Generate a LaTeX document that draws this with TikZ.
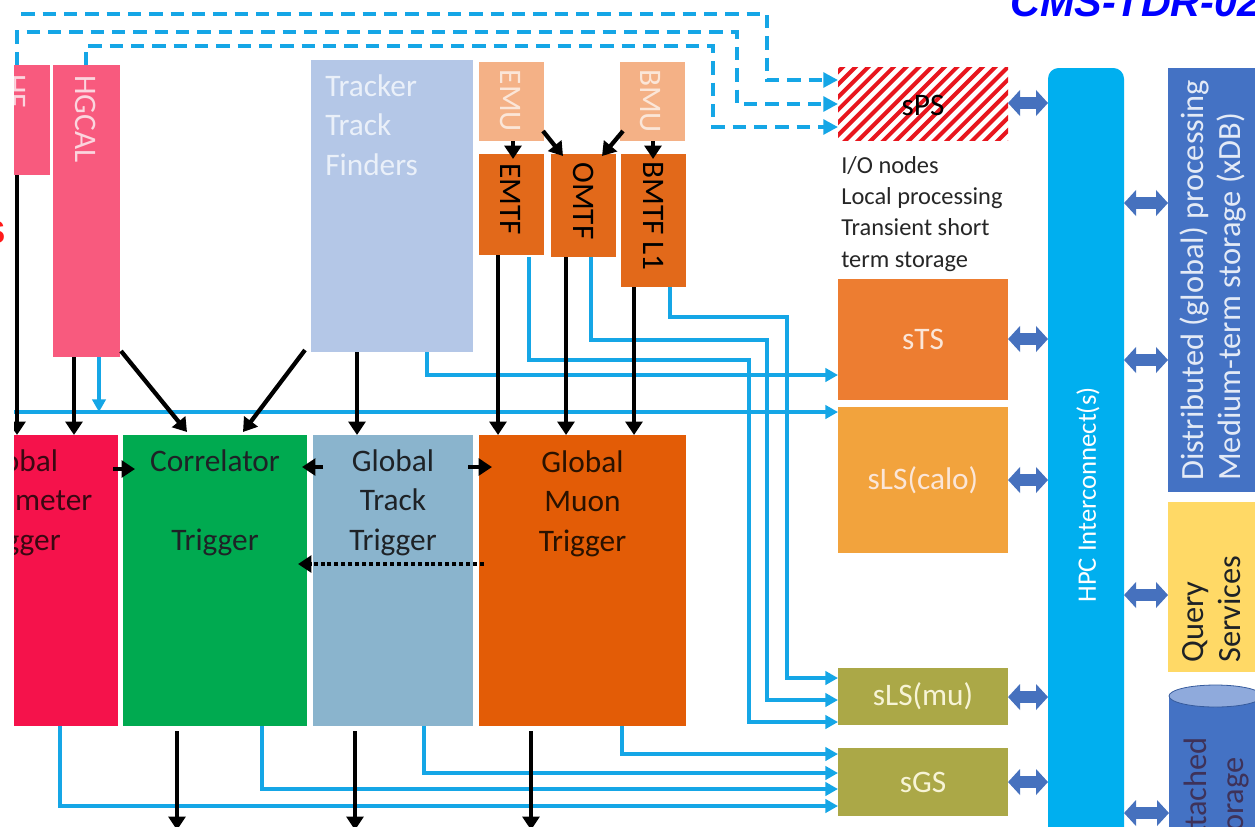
\documentclass[tikz,border=0pt]{standalone}
\usepackage{fontspec}
\setmainfont{Carlito}
\newfontfamily\headfont{Liberation Sans}
\usetikzlibrary{arrows.meta,fit,calc}

\definecolor{pinkcal}{HTML}{F85A7E}
\definecolor{calotext}{HTML}{FBD5DE}
\definecolor{crimson}{HTML}{F5124B}
\definecolor{corrgreen}{HTML}{00AA50}
\definecolor{gttblue}{HTML}{8AB4CD}
\definecolor{gmtorange}{HTML}{E35C06}
\definecolor{tforange}{HTML}{E2691A}
\definecolor{muorange}{HTML}{F4B186}
\definecolor{emutext}{HTML}{FBE6D8}
\definecolor{trackerblue}{HTML}{B4C7E7}
\definecolor{trackertext}{HTML}{EAF0F9}
\definecolor{stsorange}{HTML}{ED7D31}
\definecolor{slsorange}{HTML}{F2A33D}
\definecolor{olive}{HTML}{ABA847}
\definecolor{olivetext}{HTML}{F7F4D6}
\definecolor{hpcblue}{HTML}{00AFEF}
\definecolor{distblue}{HTML}{4472C4}
\definecolor{disttext}{HTML}{E3EAF6}
\definecolor{querygold}{HTML}{FFD966}
\definecolor{cyltop}{HTML}{8FAADC}
\definecolor{dblblue}{HTML}{4671BE}
\definecolor{wireblue}{HTML}{15A6E6}
\definecolor{hatchred}{HTML}{E8161E}
\definecolor{cmsblue}{HTML}{0000FF}
\definecolor{alertred}{HTML}{FF1A1A}
\definecolor{inktext}{HTML}{1E2226}
\definecolor{gcttext}{HTML}{3A0812}
\definecolor{gmttext}{HTML}{2A1200}

\tikzset{
  blk/.style={inner sep=0pt, outer sep=0pt},
  big/.style={font=\fontsize{23.5pt}{29.3pt}\selectfont, inner sep=0pt},
  sidetext/.style={font=\fontsize{24.3pt}{27.75pt}\selectfont, inner sep=0pt},
  wire/.style={draw=wireblue, line width=2.7pt, -{Triangle[length=9.5pt,width=10pt]}},
  dwire/.style={draw=wireblue, line width=2.7pt, dash pattern=on 10pt off 6pt,
                -{Triangle[length=11pt,width=11pt]}},
  feed/.style={draw=black, line width=3.2pt, -{Triangle[length=10pt,width=12.5pt]}},
  dotfeed/.style={draw=black, line width=3.2pt, dash pattern=on 3pt off 2.2pt,
                  -{Triangle[length=10pt,width=12.5pt]}},
  biarrow/.style={draw=dblblue, line width=9.5pt,
                  {Triangle[length=9pt,width=19pt]}-{Triangle[length=9pt,width=19pt]}},
  hatch/.style={draw=hatchred, line width=3pt},
}

\begin{document}
\begin{tikzpicture}[x=0.75pt,y=-0.75pt]
\useasboundingbox (0,0) rectangle (1255,826);
\clip (0,0) rectangle (1255,826);
\fill[white] (0,0) rectangle (1255,826);

\begin{scope}
\clip (14,0) rectangle (1255,826);

% ---------- detector / track-finder boxes ----------
\node[blk, fill=pinkcal, fit={(-10,65) (50,175)}] (hf) {};
\node[blk, fill=pinkcal, fit={(53,65) (120,357)}] (hgcal) {};
\node[blk, fill=trackerblue, fit={(311,60) (473,352)}] (tracker) {};
\node[blk, fill=muorange, fit={(479,62) (544,141)}] (emu) {};
\node[blk, fill=muorange, fit={(620,62) (685,141)}] (bmu) {};
\node[blk, fill=tforange, fit={(479,154) (544,255)}] (emtf) {};
\node[blk, fill=tforange, fit={(551,154) (616,257)}] (omtf) {};
\node[blk, fill=tforange, fit={(621,154) (686,287)}] (bmtf) {};

% ---------- global trigger boxes ----------
\node[blk, fill=crimson, fit={(-20,435) (118,726)}] (gct) {};
\node[blk, fill=corrgreen, fit={(123,435) (307,726)}] (corr) {};
\node[blk, fill=gttblue, fit={(313,435) (473,726)}] (gtt) {};
\node[blk, fill=gmtorange, fit={(479,435) (686,726)}] (gmt) {};

% ---------- storage nodes ----------
\node[blk, fit={(838,67) (1008,140)}] (sps) {};
\begin{scope}
  \clip (sps.north west) rectangle (sps.south east);
  \foreach \i in {-8,...,22}
    \draw[hatch] ($(sps.south west)+(\i*12.7,8)$) -- ++(100,-100);
\end{scope}
\node[blk, fill=stsorange, fit={(838,279) (1008,400)}] (sts) {};
\node[blk, fill=slsorange, fit={(838,407) (1008,553)}] (slscalo) {};
\node[blk, fill=olive, fit={(838,668) (1008,725)}] (slsmu) {};
\node[blk, fill=olive, fit={(838,748) (1008,816)}] (sgs) {};

% ---------- interconnect and back end ----------
\node[blk, fill=hpcblue, rounded corners=8pt, fit={(1048,68) (1124,880)}] (hpc) {};
\node[blk, fill=distblue, fit={(1168,68) (1275,492)}] (dist) {};
\node[blk, fill=querygold, fit={(1168,502) (1275,672)}] (query) {};
\node[blk, fill=distblue, fit={(1169,696) (1262,880)}] (att) {};
\fill[cyltop, draw=distblue!80!black, line width=0.6pt]
  (1215.5,696) ellipse [x radius=46.5, y radius=11];

% ---------- blue data paths ----------
\coordinate (busstart) at (0,412);
\draw[wire] (busstart) -- (slscalo.west |- busstart);
\draw[wire] ($(hgcal.south)+(12.5,0)$) coordinate (hg1) -- (hg1 |- busstart);
\draw[wire] ($(tracker.south)+(35,0)$) |- (sts.west |- 0,375);
\draw[wire] ($(emtf.south)+(17.5,2)$) |- (749,360) |- (slsmu.west |- 0,722);
\draw[wire] ($(omtf.south)+(7.5,0)$) |- (767,340) |- (slsmu.west |- 0,700);
\draw[wire] ($(bmtf.south)+(16.5,0)$) |- (787,317) |- (slsmu.west |- 0,678);
\draw[wire] ($(gct.south)+(11,0)$) |- (sgs.west |- 0,806);
\draw[wire] ($(corr.south)+(47,0)$) |- (sgs.west |- 0,789);
\draw[wire] ($(gtt.south)+(31,0)$) |- (sgs.west |- 0,773);
\draw[wire] ($(gmt.south)+(39.5,0)$) |- (sgs.west |- 0,754);

% ---------- dashed paths to sPS ----------
\coordinate (dstart) at (0,14);
\draw[dwire] (dstart) -| (767,80) -- (sps.west |- 0,80);
\draw[dwire] ($(hf.north)+(-3,0)$) |- (737,32) |- (sps.west |- 0,104);
\draw[dwire] ($(hgcal.north)+(-0.5,0)$) |- (713,46) |- (sps.west |- 0,127);

% ---------- black trigger primitives ----------
\draw[feed] ($(hf.south)+(-3,0)$) coordinate (hf1) -- (hf1 |- gct.north);
\draw[feed] ($(hgcal.south)+(-12.5,0)$) coordinate (hg2) -- (hg2 |- gct.north);
\draw[feed] ($(hgcal.south east)+(1,-6)$) -- ($(corr.north)+(-28,-3)$);
\draw[feed] ($(tracker.south west)+(-6,-2)$) -- ($(corr.north)+(28,-3)$);
\draw[feed] ($(tracker.south)+(-35,0)$) coordinate (tk1) -- (tk1 |- gtt.north);
\draw[feed] ($(emtf.south)+(-13.5,0)$) coordinate (em1) -- (em1 |- gmt.north);
\draw[feed] ($(omtf.south)+(-17.5,0)$) coordinate (om1) -- (om1 |- gmt.north);
\draw[feed] ($(bmtf.south)+(-19.5,0)$) coordinate (bm1) -- (bm1 |- gmt.north);
\draw[feed] ($(emu.south)+(1.5,0)$) -- ($(emtf.north)+(1.5,5)$);
\draw[feed] ($(emu.south east)+(-1,-10)$) -- ($(omtf.north west)+(12,2)$);
\draw[feed] ($(bmu.south west)+(3,-10)$) -- ($(omtf.north east)+(-14,2)$);
\draw[feed] ($(bmu.south)+(0.5,0)$) -- ($(bmtf.north)+(-0.5,5)$);

% links between the global triggers
\draw[feed] ($(gct.east |- 0,469)+(-5,0)$) -- ($(corr.west |- 0,469)+(12,0)$);
\draw[feed] ($(gtt.west |- 0,467)+(10,0)$) -- ($(corr.east |- 0,467)+(-5,0)$);
\draw[feed] ($(gtt.east |- 0,467)+(-5,0)$) -- ($(gmt.west |- 0,467)+(13,0)$);
\draw[dotfeed] ($(gmt.west |- 0,564)+(5,0)$) -- ($(corr.east |- 0,564)+(-9,0)$);

% outputs at the bottom
\draw[feed] ($(corr.south)+(-38,5)$) -- ++(0,99);
\draw[feed] ($(gtt.south)+(-38,5)$) -- ++(0,99);
\draw[feed] ($(gmt.south)+(-51.5,5)$) -- ++(0,99);

% ---------- interconnect links ----------
\draw[biarrow] (sps.east |- 0,103) -- (hpc.west |- 0,103);
\draw[biarrow] (sts.east |- 0,339) -- (hpc.west |- 0,339);
\draw[biarrow] (slscalo.east |- 0,480) -- (hpc.west |- 0,480);
\draw[biarrow] (slsmu.east |- 0,697) -- (hpc.west |- 0,697);
\draw[biarrow] (sgs.east |- 0,782) -- (hpc.west |- 0,782);
\draw[biarrow] (hpc.east |- 0,203) -- (dist.west |- 0,203);
\draw[biarrow] (hpc.east |- 0,360) -- (dist.west |- 0,360);
\draw[biarrow] (hpc.east |- 0,595) -- (query.west |- 0,595);
\draw[biarrow] (hpc.east |- 0,813) -- (att.west |- 0,813);

% ---------- labels (multi-line nodes are placed by their last baseline) ----------
\node[big, rotate=-90, anchor=base, text=calotext] at (5,91) {HF};
\node[big, rotate=-90, anchor=base, text=calotext] at (75,119) {HGCAL};
\node[big, align=left, anchor=base west, text=trackertext] at (325,175) {Tracker\\Track\\Finders};
\node[big, rotate=-90, anchor=base, text=emutext] at (500,101) {EMU};
\node[big, rotate=-90, anchor=base, text=emutext] at (640,101) {BMU};
\node[big, rotate=-90, anchor=base, text=black] at (500,199) {EMTF};
\node[big, rotate=-90, anchor=base, text=black] at (573,201) {OMTF};
\node[big, rotate=-90, anchor=base, text=black] at (643,216) {BMTF L1};

\node[big, align=center, anchor=base, text=gcttext] at (17,550) {Global\\Calorimeter\\Trigger};
\node[big, align=center, anchor=base, text=inktext] at ($(corr.north)+(0,115)$) {Correlator\\\mbox{}\\Trigger};
\node[big, align=center, anchor=base, text=inktext] at ($(gtt.north)+(0,115)$) {Global\\Track\\Trigger};
\node[big, align=center, anchor=base, text=gmttext] at ($(gmt.north)+(0,116)$) {Global\\Muon\\Trigger};

\node[big, text=black] at ($(sps.center)+(0,2)$) {sPS};
\node[font=\fontsize{18.3pt}{23.3pt}\selectfont, inner sep=0pt, align=left, anchor=base west, text=black!85]
  at (841,267) {I/O nodes\\Local processing\\Transient short\\term storage};
\node[big, text=emutext] at (sts.center) {sTS};
\node[big, text=emutext] at (slscalo.center) {sLS(calo)};
\node[big, text=olivetext] at (slsmu.center) {sLS(mu)};
\node[big, text=olivetext] at (sgs.center) {sGS};

\node[font=\fontsize{20pt}{24pt}\selectfont, inner sep=0pt, rotate=90, text=white] at (1088,495) {HPC Interconnect(s)};
\node[sidetext, rotate=90, align=left, anchor=west, text=disttext] at (1213,481)
  {Distributed (global) processing\\Medium-term storage (xDB)};
\node[sidetext, rotate=90, align=left, anchor=west, text=inktext] at (1212,663) {Query\\Services};
\node[sidetext, rotate=90, align=left, anchor=west, text=gcttext!60!distblue] at (1217,855) {Attached\\storage};

\node[font=\headfont\bfseries\itshape\fontsize{31pt}{31pt}\selectfont, text=cmsblue, inner sep=0pt, anchor=base west]
  at (1010,16) {CMS-TDR-02};
\end{scope}

\node[font=\headfont\bfseries\fontsize{24pt}{24pt}\selectfont, text=alertred, inner sep=0pt, anchor=east]
  at (5.5,232) {S};
\end{tikzpicture}
\end{document}
